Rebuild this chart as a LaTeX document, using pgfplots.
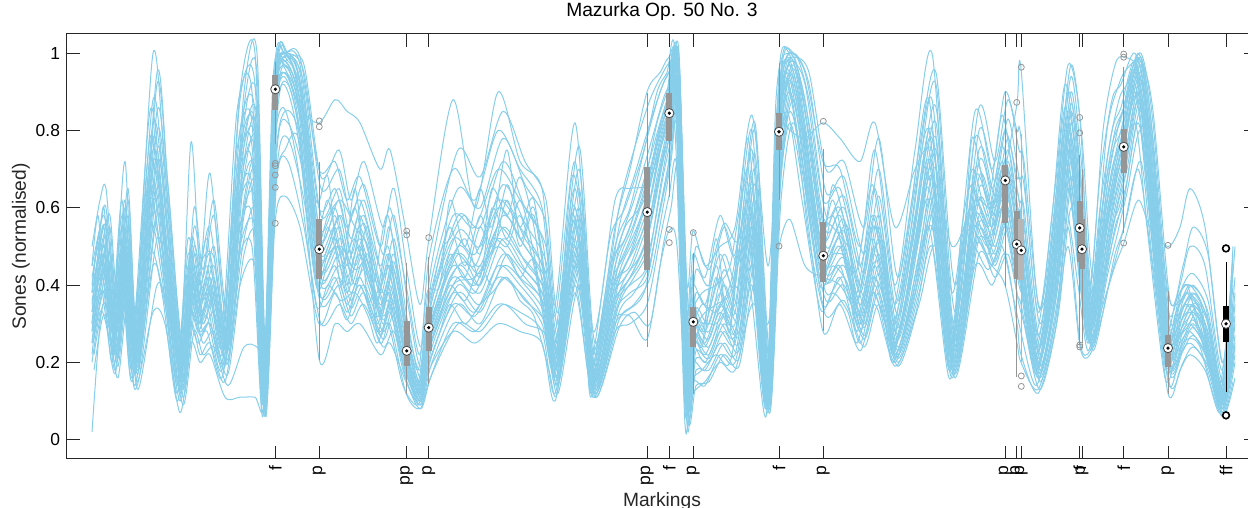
\documentclass[border=0pt]{standalone}
\usepackage{fontspec}
\setmainfont{Liberation Sans}
\usepackage{pgfplots}
\usepackage{pgfplotstable}
\pgfplotsset{compat=1.18}
\definecolor{curve}{RGB}{135,206,235}
\definecolor{boxgray}{RGB}{150,150,150}
\definecolor{axisgray}{RGB}{38,38,38}

% loudness curves, one column per performance (x = position along the piece)
\pgfplotstableread{
x c1 c2 c3 c4 c5 c6 c7 c8 c9 c10 c11 c12
92 0.30 0.35 0.25 0.42 0.02 0.38 0.28 0.45 0.33 0.50 0.20 0.36
100 0.45 0.50 0.38 0.52 0.30 0.48 0.40 0.55 0.42 0.62 0.33 0.46
106 0.40 0.55 0.45 0.48 0.35 0.42 0.50 0.60 0.38 0.65 0.30 0.52
115 0.25 0.30 0.22 0.28 0.18 0.26 0.32 0.35 0.20 0.40 0.17 0.27
125 0.45 0.55 0.42 0.60 0.38 0.50 0.47 0.62 0.44 0.72 0.35 0.52
135 0.20 0.22 0.18 0.25 0.14 0.21 0.24 0.28 0.17 0.30 0.13 0.23
153 0.70 0.78 0.62 0.82 0.45 0.72 0.66 0.88 0.55 1.00 0.33 0.75
165 0.50 0.55 0.42 0.60 0.35 0.52 0.45 0.62 0.40 0.70 0.30 0.50
180 0.16 0.18 0.12 0.20 0.10 0.15 0.17 0.22 0.13 0.25 0.07 0.19
191 0.42 0.45 0.35 0.50 0.30 0.40 0.38 0.52 0.33 0.77 0.25 0.47
200 0.30 0.35 0.28 0.40 0.22 0.32 0.30 0.45 0.27 0.45 0.20 0.36
210 0.38 0.42 0.30 0.48 0.25 0.36 0.40 0.55 0.30 0.69 0.22 0.45
225 0.22 0.25 0.19 0.28 0.15 0.24 0.26 0.32 0.20 0.35 0.11 0.27
240 0.65 0.75 0.55 0.80 0.40 0.70 0.62 0.88 0.50 0.90 0.11 0.72
255 0.75 0.80 0.62 0.85 0.45 0.78 0.70 0.92 0.55 1.00 0.11 0.82
265 0.10 0.12 0.08 0.15 0.06 0.11 0.13 0.20 0.07 0.25 0.10 0.14
275 0.90 0.93 0.85 0.95 0.56 0.91 0.88 0.97 0.71 0.94 0.65 0.89
285 1.00 0.98 0.95 1.00 0.63 0.97 0.99 1.00 0.85 0.96 0.75 1.00
300 0.90 0.95 0.85 0.97 0.55 0.88 0.92 0.99 0.78 0.86 0.76 0.93
319 0.50 0.55 0.42 0.60 0.30 0.47 0.45 0.70 0.38 0.82 0.21 0.52
335 0.55 0.60 0.45 0.65 0.38 0.52 0.50 0.72 0.42 0.88 0.30 0.58
347 0.40 0.48 0.35 0.55 0.31 0.42 0.38 0.62 0.33 0.85 0.28 0.45
360 0.52 0.58 0.42 0.62 0.40 0.50 0.48 0.68 0.40 0.82 0.30 0.55
380 0.35 0.40 0.28 0.45 0.25 0.33 0.32 0.50 0.27 0.70 0.22 0.38
390 0.42 0.48 0.35 0.55 0.30 0.40 0.38 0.60 0.33 0.75 0.25 0.45
406 0.23 0.28 0.19 0.31 0.12 0.22 0.21 0.40 0.17 0.54 0.15 0.26
420 0.12 0.15 0.10 0.18 0.08 0.13 0.12 0.22 0.10 0.35 0.09 0.14
429 0.29 0.33 0.23 0.36 0.15 0.27 0.25 0.47 0.20 0.52 0.18 0.31
453 0.45 0.52 0.38 0.58 0.30 0.42 0.40 0.70 0.35 0.88 0.28 0.48
475 0.40 0.48 0.33 0.55 0.28 0.38 0.42 0.62 0.32 0.60 0.25 0.45
498 0.55 0.62 0.45 0.70 0.35 0.52 0.50 0.80 0.42 0.90 0.30 0.60
520 0.48 0.55 0.40 0.62 0.33 0.45 0.42 0.70 0.38 0.72 0.28 0.52
542 0.40 0.45 0.32 0.52 0.28 0.38 0.36 0.60 0.30 0.65 0.25 0.42
555 0.22 0.25 0.18 0.28 0.12 0.21 0.20 0.32 0.17 0.35 0.10 0.24
575 0.55 0.60 0.48 0.65 0.40 0.52 0.50 0.72 0.45 0.82 0.38 0.57
593 0.15 0.18 0.13 0.20 0.11 0.14 0.16 0.23 0.12 0.28 0.11 0.17
615 0.40 0.45 0.35 0.50 0.30 0.38 0.36 0.55 0.33 0.62 0.28 0.42
630 0.45 0.55 0.40 0.60 0.32 0.48 0.42 0.70 0.38 0.65 0.30 0.52
647 0.58 0.70 0.45 0.78 0.26 0.62 0.52 0.90 0.42 0.66 0.35 0.66
660 0.75 0.82 0.65 0.90 0.45 0.78 0.70 0.95 0.60 0.75 0.52 0.80
669 0.85 0.90 0.78 0.95 0.54 0.86 0.80 0.99 0.70 0.82 0.63 0.88
677 0.95 1.00 0.88 0.98 0.50 0.96 0.92 0.97 0.80 0.85 0.70 0.99
687 0.15 0.20 0.10 0.25 0.05 0.15 0.12 0.30 0.08 0.40 0.04 0.18
693 0.30 0.34 0.24 0.40 0.12 0.28 0.26 0.48 0.20 0.54 0.15 0.32
705 0.25 0.30 0.20 0.35 0.15 0.24 0.22 0.42 0.18 0.45 0.14 0.28
720 0.35 0.42 0.28 0.48 0.20 0.33 0.30 0.58 0.25 0.50 0.22 0.38
735 0.30 0.35 0.25 0.40 0.18 0.28 0.27 0.48 0.22 0.55 0.20 0.33
752 0.60 0.68 0.50 0.75 0.35 0.58 0.55 0.80 0.45 0.84 0.40 0.65
768 0.10 0.12 0.08 0.15 0.30 0.10 0.09 0.18 0.07 0.45 0.08 0.12
779 0.80 0.85 0.75 0.90 0.50 0.78 0.76 0.95 0.65 0.82 0.62 0.82
790 0.97 1.00 0.90 0.98 0.57 0.95 0.93 1.00 0.85 0.80 0.82 0.99
805 0.80 0.88 0.72 0.92 0.45 0.78 0.75 0.95 0.68 0.78 0.62 0.85
823 0.48 0.56 0.41 0.62 0.42 0.45 0.44 0.72 0.35 0.82 0.28 0.52
840 0.55 0.60 0.45 0.65 0.40 0.50 0.52 0.70 0.42 0.78 0.35 0.58
860 0.35 0.40 0.28 0.45 0.32 0.33 0.30 0.50 0.25 0.72 0.23 0.38
875 0.50 0.58 0.42 0.65 0.38 0.48 0.45 0.75 0.40 0.82 0.35 0.55
895 0.25 0.30 0.22 0.35 0.20 0.24 0.26 0.40 0.21 0.55 0.19 0.28
915 0.50 0.58 0.42 0.65 0.40 0.52 0.48 0.75 0.38 0.70 0.32 0.55
932 0.70 0.80 0.62 0.88 0.55 0.72 0.68 1.00 0.58 0.75 0.50 0.78
952 0.22 0.25 0.18 0.30 0.17 0.21 0.24 0.38 0.20 0.50 0.16 0.26
975 0.62 0.70 0.55 0.78 0.50 0.60 0.58 0.85 0.52 0.62 0.45 0.68
992 0.55 0.60 0.48 0.65 0.45 0.53 0.50 0.70 0.45 0.60 0.40 0.58
1005 0.68 0.72 0.56 0.80 0.40 0.66 0.62 0.90 0.55 0.70 0.48 0.70
1017 0.50 0.60 0.42 0.68 0.25 0.48 0.45 0.80 0.38 0.87 0.30 0.56
1021 0.48 0.57 0.41 0.65 0.20 0.46 0.43 0.78 0.35 0.96 0.22 0.55
1038 0.20 0.23 0.17 0.27 0.13 0.19 0.21 0.33 0.16 0.35 0.12 0.24
1055 0.45 0.52 0.38 0.58 0.30 0.43 0.40 0.65 0.35 0.50 0.28 0.48
1068 0.80 0.85 0.70 0.90 0.55 0.78 0.75 0.97 0.65 0.65 0.50 0.82
1080 0.55 0.62 0.47 0.70 0.25 0.52 0.50 0.83 0.40 0.45 0.24 0.58
1090 0.28 0.32 0.25 0.35 0.23 0.27 0.29 0.40 0.25 0.35 0.22 0.30
1103 0.45 0.55 0.40 0.62 0.35 0.48 0.45 0.80 0.38 0.50 0.33 0.52
1115 0.65 0.72 0.58 0.80 0.45 0.66 0.62 0.97 0.55 0.68 0.48 0.70
1124 0.76 0.80 0.69 0.86 0.51 0.75 0.72 0.99 0.62 0.78 0.55 0.80
1138 0.95 0.99 0.88 1.00 0.62 0.93 0.90 0.96 0.82 0.90 0.70 0.98
1150 0.75 0.82 0.65 0.85 0.55 0.72 0.70 0.80 0.60 0.72 0.50 0.78
1168 0.24 0.27 0.19 0.30 0.50 0.22 0.20 0.38 0.15 0.33 0.12 0.26
1180 0.30 0.35 0.25 0.38 0.55 0.28 0.27 0.36 0.22 0.40 0.18 0.32
1190 0.35 0.38 0.28 0.40 0.65 0.33 0.30 0.40 0.25 0.50 0.22 0.37
1205 0.28 0.30 0.22 0.33 0.55 0.25 0.24 0.35 0.20 0.45 0.18 0.30
1222 0.10 0.12 0.08 0.14 0.20 0.09 0.10 0.15 0.07 0.18 0.06 0.11
1233 0.30 0.35 0.25 0.45 0.40 0.28 0.22 0.50 0.20 0.48 0.15 0.33
}\curvesA

% a second group of performances, a little later in phase
\pgfplotstableread{
x c1 c2 c3 c4 c5 c6 c7 c8 c9 c10 c11 c12
94 0.33 0.27 0.40 0.22 0.37 0.30 0.45 0.18 0.35 0.26 0.42 0.31
103 0.50 0.40 0.55 0.35 0.45 0.43 0.58 0.32 0.47 0.38 0.52 0.44
110 0.38 0.48 0.42 0.32 0.55 0.36 0.50 0.28 0.45 0.34 0.58 0.40
118 0.22 0.28 0.25 0.19 0.30 0.24 0.33 0.16 0.26 0.21 0.36 0.23
128 0.50 0.58 0.47 0.40 0.62 0.45 0.55 0.36 0.52 0.43 0.65 0.48
138 0.19 0.23 0.21 0.15 0.26 0.18 0.22 0.13 0.20 0.17 0.27 0.19
157 0.75 0.85 0.68 0.52 0.92 0.60 0.80 0.40 0.72 0.58 0.95 0.65
168 0.55 0.62 0.48 0.38 0.65 0.45 0.58 0.33 0.52 0.42 0.66 0.47
183 0.18 0.20 0.15 0.11 0.22 0.14 0.19 0.09 0.16 0.13 0.24 0.15
194 0.45 0.50 0.40 0.32 0.55 0.38 0.48 0.28 0.43 0.36 0.60 0.42
203 0.33 0.38 0.30 0.25 0.42 0.28 0.36 0.22 0.32 0.47 0.44 0.30
214 0.42 0.50 0.36 0.28 0.58 0.33 0.45 0.24 0.40 0.47 0.62 0.38
228 0.24 0.27 0.21 0.17 0.30 0.20 0.25 0.14 0.23 0.24 0.33 0.20
244 0.72 0.82 0.62 0.48 0.86 0.58 0.76 0.24 0.68 0.52 0.90 0.60
257 0.80 0.88 0.70 0.52 0.95 0.65 0.83 0.24 0.76 0.58 1.00 0.68
266 0.12 0.15 0.09 0.06 0.18 0.08 0.13 0.20 0.11 0.07 0.22 0.10
277 0.92 0.95 0.87 0.70 0.97 0.83 0.93 0.68 0.90 0.75 0.98 0.86
288 0.99 1.00 0.96 0.78 1.00 0.92 0.98 0.72 0.97 0.82 0.99 0.94
304 0.85 0.92 0.80 0.62 0.95 0.74 0.88 0.55 0.83 0.68 0.97 0.78
321 0.48 0.58 0.44 0.35 0.65 0.40 0.52 0.30 0.47 0.37 0.68 0.42
339 0.58 0.65 0.50 0.40 0.70 0.45 0.62 0.35 0.55 0.42 0.75 0.48
351 0.45 0.52 0.40 0.32 0.58 0.36 0.48 0.30 0.43 0.34 0.62 0.38
364 0.56 0.62 0.48 0.38 0.66 0.44 0.58 0.35 0.52 0.40 0.72 0.46
383 0.36 0.42 0.32 0.26 0.48 0.30 0.38 0.24 0.35 0.28 0.55 0.31
394 0.46 0.52 0.40 0.32 0.58 0.36 0.48 0.28 0.44 0.34 0.65 0.38
408 0.25 0.30 0.22 0.16 0.35 0.19 0.27 0.14 0.24 0.18 0.42 0.20
421 0.13 0.16 0.11 0.09 0.19 0.10 0.14 0.08 0.12 0.10 0.24 0.11
432 0.31 0.36 0.28 0.20 0.42 0.24 0.33 0.17 0.30 0.22 0.46 0.26
458 0.50 0.58 0.45 0.35 0.65 0.40 0.54 0.30 0.48 0.38 0.75 0.42
480 0.45 0.55 0.40 0.30 0.60 0.35 0.50 0.28 0.43 0.33 0.68 0.38
503 0.62 0.72 0.55 0.42 0.78 0.48 0.66 0.35 0.58 0.45 0.85 0.52
525 0.52 0.60 0.46 0.36 0.66 0.42 0.56 0.30 0.50 0.40 0.72 0.44
546 0.43 0.50 0.38 0.30 0.56 0.34 0.46 0.27 0.41 0.32 0.62 0.36
558 0.23 0.27 0.20 0.14 0.30 0.18 0.25 0.12 0.22 0.16 0.33 0.19
579 0.58 0.65 0.52 0.44 0.70 0.48 0.60 0.40 0.55 0.46 0.76 0.50
595 0.16 0.19 0.14 0.11 0.22 0.13 0.17 0.11 0.15 0.12 0.25 0.14
619 0.43 0.50 0.38 0.31 0.55 0.35 0.46 0.29 0.41 0.33 0.60 0.36
634 0.52 0.62 0.46 0.35 0.68 0.42 0.56 0.33 0.50 0.38 0.75 0.44
650 0.66 0.76 0.58 0.42 0.82 0.50 0.70 0.30 0.62 0.46 0.88 0.55
663 0.80 0.88 0.74 0.60 0.92 0.68 0.84 0.50 0.78 0.64 0.95 0.72
671 0.87 0.93 0.82 0.72 0.96 0.78 0.89 0.60 0.85 0.75 0.98 0.80
679 0.97 1.00 0.94 0.85 0.98 0.90 0.99 0.70 0.96 0.88 0.97 0.92
688 0.18 0.24 0.14 0.08 0.30 0.11 0.20 0.06 0.16 0.10 0.35 0.13
696 0.31 0.38 0.27 0.18 0.44 0.23 0.34 0.14 0.29 0.21 0.50 0.25
709 0.28 0.34 0.24 0.18 0.40 0.21 0.30 0.15 0.26 0.20 0.44 0.22
724 0.40 0.48 0.34 0.25 0.55 0.30 0.44 0.22 0.37 0.28 0.56 0.32
739 0.33 0.40 0.28 0.21 0.46 0.25 0.36 0.19 0.31 0.23 0.52 0.27
755 0.66 0.74 0.58 0.45 0.80 0.52 0.70 0.40 0.62 0.48 0.82 0.55
770 0.12 0.15 0.10 0.08 0.18 0.09 0.13 0.07 0.11 0.08 0.22 0.10
781 0.84 0.90 0.78 0.68 0.94 0.72 0.86 0.62 0.80 0.70 0.96 0.75
794 0.99 1.00 0.96 0.88 1.00 0.92 0.98 0.82 0.97 0.90 0.99 0.94
809 0.78 0.88 0.72 0.58 0.92 0.65 0.82 0.52 0.75 0.62 0.95 0.68
826 0.50 0.58 0.45 0.36 0.64 0.41 0.54 0.32 0.48 0.38 0.70 0.43
844 0.57 0.63 0.50 0.40 0.68 0.45 0.60 0.36 0.54 0.42 0.72 0.47
864 0.37 0.43 0.32 0.26 0.48 0.29 0.40 0.24 0.35 0.27 0.55 0.30
879 0.55 0.63 0.48 0.38 0.70 0.43 0.58 0.35 0.52 0.40 0.78 0.45
898 0.27 0.32 0.24 0.20 0.36 0.22 0.29 0.19 0.26 0.21 0.42 0.23
919 0.55 0.63 0.48 0.38 0.70 0.42 0.58 0.35 0.52 0.40 0.75 0.45
936 0.78 0.86 0.70 0.56 0.92 0.63 0.82 0.50 0.75 0.60 0.95 0.66
955 0.24 0.28 0.21 0.17 0.33 0.19 0.26 0.16 0.23 0.18 0.40 0.20
979 0.68 0.75 0.62 0.52 0.80 0.56 0.72 0.48 0.65 0.54 0.86 0.58
995 0.58 0.63 0.53 0.45 0.67 0.48 0.60 0.42 0.56 0.46 0.72 0.50
1008 0.72 0.78 0.66 0.55 0.83 0.60 0.75 0.48 0.70 0.58 0.88 0.62
1019 0.55 0.62 0.50 0.40 0.68 0.44 0.58 0.35 0.52 0.42 0.75 0.46
1024 0.52 0.60 0.47 0.36 0.66 0.41 0.55 0.30 0.50 0.38 0.72 0.43
1040 0.22 0.26 0.19 0.15 0.30 0.17 0.24 0.13 0.21 0.16 0.34 0.18
1058 0.50 0.56 0.44 0.35 0.62 0.40 0.53 0.32 0.47 0.37 0.68 0.42
1071 0.85 0.90 0.78 0.65 0.94 0.72 0.87 0.60 0.82 0.68 0.97 0.75
1082 0.58 0.65 0.52 0.42 0.70 0.47 0.62 0.38 0.55 0.45 0.78 0.49
1093 0.30 0.34 0.27 0.24 0.37 0.25 0.32 0.23 0.29 0.24 0.42 0.26
1107 0.58 0.65 0.52 0.42 0.72 0.47 0.62 0.38 0.55 0.45 0.80 0.49
1119 0.75 0.82 0.68 0.55 0.88 0.62 0.78 0.50 0.72 0.58 0.92 0.65
1127 0.82 0.88 0.76 0.64 0.92 0.70 0.85 0.58 0.80 0.67 0.96 0.73
1141 0.97 0.99 0.93 0.80 1.00 0.88 0.98 0.72 0.95 0.85 0.98 0.90
1153 0.70 0.78 0.62 0.50 0.82 0.56 0.74 0.45 0.66 0.53 0.85 0.60
1170 0.25 0.28 0.22 0.17 0.31 0.19 0.26 0.14 0.23 0.18 0.36 0.20
1183 0.32 0.36 0.28 0.23 0.40 0.25 0.34 0.20 0.30 0.24 0.45 0.26
1193 0.37 0.40 0.33 0.27 0.43 0.30 0.38 0.24 0.35 0.29 0.55 0.31
1208 0.30 0.33 0.26 0.21 0.36 0.23 0.31 0.19 0.28 0.22 0.48 0.24
1223 0.11 0.13 0.09 0.07 0.15 0.08 0.12 0.06 0.10 0.08 0.20 0.09
1235 0.32 0.38 0.27 0.20 0.42 0.24 0.35 0.16 0.30 0.22 0.50 0.25
}\curvesB

% a third group, earlier in phase and with more small bumps
\pgfplotstableread{
x c1 c2 c3 c4 c5 c6 c7 c8
92 0.38 0.25 0.45 0.30 0.22 0.40 0.33 0.28
98 0.52 0.40 0.58 0.45 0.35 0.50 0.48 0.42
104 0.45 0.50 0.40 0.55 0.38 0.35 0.60 0.46
112 0.28 0.24 0.30 0.22 0.20 0.26 0.33 0.25
122 0.55 0.48 0.62 0.42 0.40 0.58 0.50 0.45
132 0.22 0.18 0.25 0.16 0.15 0.20 0.27 0.19
150 0.78 0.62 0.85 0.55 0.48 0.72 0.68 0.60
162 0.58 0.45 0.62 0.42 0.38 0.55 0.50 0.46
177 0.18 0.14 0.20 0.12 0.10 0.16 0.22 0.15
188 0.48 0.38 0.52 0.35 0.30 0.45 0.42 0.40
198 0.36 0.30 0.40 0.28 0.25 0.33 0.38 0.32
207 0.45 0.35 0.52 0.32 0.28 0.42 0.40 0.38
222 0.26 0.20 0.30 0.18 0.16 0.24 0.28 0.22
237 0.75 0.60 0.85 0.52 0.45 0.70 0.65 0.58
252 0.82 0.66 0.90 0.58 0.50 0.76 0.72 0.64
263 0.13 0.09 0.16 0.07 0.06 0.11 0.14 0.10
273 0.88 0.82 0.93 0.78 0.72 0.86 0.84 0.80
283 1.00 0.95 0.99 0.92 0.86 0.98 0.97 0.94
297 0.92 0.85 0.96 0.80 0.72 0.90 0.88 0.83
316 0.55 0.45 0.62 0.40 0.35 0.52 0.48 0.42
328 0.62 0.50 0.68 0.46 0.40 0.58 0.55 0.48
341 0.48 0.58 0.40 0.52 0.36 0.62 0.45 0.50
355 0.60 0.45 0.65 0.40 0.38 0.55 0.52 0.44
368 0.42 0.55 0.36 0.48 0.32 0.50 0.40 0.46
377 0.38 0.32 0.45 0.28 0.25 0.36 0.35 0.30
388 0.50 0.40 0.58 0.36 0.30 0.48 0.45 0.38
403 0.27 0.21 0.33 0.18 0.14 0.25 0.24 0.20
418 0.15 0.11 0.18 0.10 0.09 0.13 0.14 0.12
427 0.33 0.26 0.38 0.22 0.18 0.30 0.28 0.24
440 0.45 0.38 0.40 0.32 0.28 0.48 0.36 0.34
450 0.55 0.45 0.62 0.40 0.35 0.52 0.48 0.42
465 0.45 0.52 0.50 0.36 0.30 0.58 0.42 0.46
480 0.58 0.42 0.65 0.45 0.35 0.48 0.55 0.40
492 0.50 0.60 0.55 0.40 0.38 0.65 0.48 0.52
507 0.66 0.52 0.75 0.48 0.42 0.58 0.62 0.50
520 0.55 0.62 0.52 0.42 0.36 0.68 0.50 0.58
534 0.62 0.48 0.60 0.46 0.32 0.55 0.58 0.45
549 0.30 0.25 0.35 0.22 0.18 0.28 0.33 0.24
557 0.20 0.17 0.24 0.15 0.12 0.19 0.22 0.16
572 0.60 0.50 0.68 0.46 0.42 0.56 0.58 0.48
585 0.45 0.38 0.50 0.35 0.30 0.42 0.40 0.36
591 0.17 0.14 0.20 0.12 0.11 0.15 0.18 0.13
610 0.45 0.38 0.52 0.34 0.30 0.42 0.40 0.36
625 0.52 0.45 0.60 0.40 0.33 0.55 0.48 0.42
644 0.66 0.55 0.75 0.48 0.38 0.62 0.60 0.50
657 0.82 0.72 0.90 0.65 0.55 0.78 0.76 0.68
667 0.90 0.83 0.95 0.78 0.68 0.88 0.86 0.80
675 0.98 0.94 1.00 0.90 0.80 0.97 0.95 0.92
685 0.20 0.12 0.25 0.08 0.04 0.16 0.14 0.10
691 0.35 0.27 0.42 0.22 0.15 0.32 0.30 0.25
702 0.28 0.35 0.25 0.30 0.18 0.38 0.24 0.32
716 0.45 0.33 0.52 0.30 0.22 0.40 0.42 0.35
730 0.32 0.40 0.28 0.36 0.20 0.45 0.30 0.38
748 0.70 0.58 0.78 0.52 0.42 0.66 0.62 0.55
766 0.11 0.09 0.14 0.08 0.06 0.10 0.12 0.09
776 0.82 0.76 0.88 0.72 0.65 0.80 0.78 0.74
787 0.99 0.95 1.00 0.92 0.85 0.98 0.96 0.93
802 0.85 0.76 0.90 0.70 0.62 0.82 0.80 0.72
820 0.52 0.44 0.60 0.40 0.34 0.50 0.48 0.42
833 0.62 0.50 0.55 0.45 0.38 0.66 0.58 0.48
848 0.45 0.55 0.50 0.40 0.33 0.52 0.42 0.46
857 0.38 0.32 0.44 0.28 0.25 0.36 0.35 0.30
872 0.58 0.48 0.66 0.42 0.38 0.55 0.52 0.45
885 0.42 0.50 0.45 0.36 0.30 0.48 0.40 0.44
893 0.28 0.24 0.33 0.22 0.20 0.26 0.30 0.23
912 0.56 0.45 0.62 0.42 0.36 0.52 0.50 0.44
929 0.80 0.68 0.88 0.62 0.55 0.75 0.72 0.65
949 0.25 0.20 0.30 0.18 0.16 0.23 0.22 0.19
962 0.45 0.52 0.40 0.48 0.35 0.55 0.42 0.50
972 0.70 0.60 0.78 0.55 0.50 0.66 0.64 0.58
988 0.58 0.52 0.62 0.48 0.44 0.56 0.55 0.50
1002 0.76 0.66 0.84 0.60 0.50 0.72 0.70 0.62
1014 0.60 0.50 0.66 0.45 0.36 0.56 0.54 0.48
1019 0.56 0.46 0.62 0.42 0.30 0.52 0.50 0.44
1036 0.24 0.19 0.28 0.17 0.14 0.22 0.21 0.18
1052 0.52 0.42 0.58 0.38 0.32 0.48 0.46 0.40
1065 0.86 0.76 0.92 0.70 0.60 0.82 0.80 0.72
1078 0.60 0.50 0.68 0.46 0.40 0.56 0.55 0.48
1088 0.31 0.27 0.35 0.25 0.23 0.29 0.30 0.26
1100 0.60 0.50 0.68 0.45 0.38 0.55 0.52 0.48
1112 0.80 0.70 0.88 0.64 0.55 0.76 0.74 0.66
1121 0.86 0.78 0.92 0.72 0.62 0.83 0.80 0.74
1135 0.98 0.95 1.00 0.90 0.82 0.97 0.96 0.92
1147 0.78 0.70 0.84 0.64 0.55 0.75 0.72 0.66
1165 0.27 0.22 0.30 0.19 0.16 0.25 0.24 0.20
1176 0.33 0.28 0.36 0.25 0.22 0.31 0.30 0.26
1187 0.38 0.33 0.40 0.29 0.26 0.36 0.35 0.31
1200 0.30 0.34 0.28 0.32 0.24 0.36 0.27 0.33
1219 0.11 0.09 0.13 0.08 0.07 0.10 0.12 0.09
1232 0.36 0.28 0.42 0.24 0.18 0.33 0.30 0.26
}\curvesC

% compact box: [colour]{x}{low whisker}{q1}{median}{q3}{high whisker}
\newcommand{\markbox}[7][boxgray]{%
  \addplot[#1, line width=0.5pt, forget plot] coordinates {(#2,#3) (#2,#7)};
  \addplot[#1, line width=3pt, forget plot] coordinates {(#2,#4) (#2,#6)};
  \addplot[only marks, mark=*, mark size=2.3pt, forget plot,
    mark options={fill=white, draw=black!70, line width=0.4pt}] coordinates {(#2,#5)};
  \addplot[only marks, mark=*, mark size=0.6pt, black, forget plot] coordinates {(#2,#5)};
}

\begin{document}
\begin{tikzpicture}
\useasboundingbox (-33.5pt,-24.5pt) rectangle (590.5pt,229.5pt);
\begin{axis}[
  at={(0pt,0pt)}, anchor=south west,
  width=595pt, height=212.5pt, scale only axis,
  xmin=67, xmax=1257, ymin=-0.05, ymax=1.05,
  xtick={275.3,319.3,406.7,428.7,647.3,669.3,693.3,779,823.3,1005.3,1016.7,1021.3,1079.7,1082,1123.7,1168,1226},
  xticklabels={f,p,pp,p,pp,f,p,f,p,p,p,p,f,p,f,p,ff},
  xticklabel style={rotate=90, anchor=east, font=\fontsize{8.7}{9}\selectfont},
  ytick={0,0.2,0.4,0.6,0.8,1},
  yticklabels={0,0.2,0.4,0.6,0.8,1},
  yticklabel style={font=\fontsize{8.7}{9}\selectfont},
  tick align=inside, major tick length=6.3pt,
  axis line style={axisgray, line width=0.5pt},
  tick style={axisgray, line width=0.5pt},
  title={Mazurka Op. 50 No. 3},
  title style={at={(axis description cs:0.5,1.0141)}, anchor=base, font=\fontsize{9.6}{10}\selectfont},
  xlabel={Markings},
  xlabel style={at={(axis description cs:0.5,-0.1115)}, anchor=base, font=\fontsize{9.6}{10}\selectfont, text=axisgray},
  ylabel={Sones (normalised)},
  ylabel style={at={(axis description cs:-0.0345,0.5)}, anchor=base, font=\fontsize{9.6}{10}\selectfont, text=axisgray},
]
\pgfplotsinvokeforeach{1,...,12}{
  \addplot[curve, line width=0.5pt, smooth, tension=0.5] table[x=x, y=c#1] {\curvesA};
  \addplot[curve, line width=0.5pt, smooth, tension=0.5] table[x=x, y=c#1] {\curvesB};
}
\pgfplotsinvokeforeach{1,...,8}{
  \addplot[curve, line width=0.5pt, smooth, tension=0.5] table[x=x, y=c#1] {\curvesC};
}
\markbox{275.3}{0.764}{0.853}{0.907}{0.943}{0.977}
\markbox{319.3}{0.205}{0.416}{0.493}{0.570}{0.718}
\markbox{406.7}{0.119}{0.191}{0.230}{0.308}{0.456}
\markbox{428.7}{0.145}{0.230}{0.290}{0.343}{0.473}
\markbox{647.3}{0.240}{0.440}{0.589}{0.706}{0.898}
\markbox{669.3}{0.628}{0.772}{0.845}{0.897}{0.996}
\markbox{693.3}{0.119}{0.240}{0.305}{0.344}{0.482}
\markbox{779}{0.620}{0.749}{0.797}{0.845}{0.974}
\markbox{823.3}{0.281}{0.407}{0.476}{0.563}{0.753}
\markbox{1005.3}{0.394}{0.560}{0.671}{0.711}{0.902}
\markbox{1016.7}{0.161}{0.415}{0.506}{0.591}{0.804}
\markbox[boxgray!70]{1021.3}{0.200}{0.413}{0.490}{0.571}{0.791}
\markbox{1079.7}{0.244}{0.460}{0.548}{0.617}{0.737}
\markbox{1082}{0.250}{0.441}{0.493}{0.571}{0.700}
\markbox{1123.7}{0.536}{0.689}{0.758}{0.803}{0.964}
\markbox{1168}{0.117}{0.187}{0.237}{0.270}{0.385}
\markbox[black]{1226}{0.123}{0.253}{0.300}{0.346}{0.460}
\addplot[only marks, mark=o, mark size=1.5pt, boxgray, mark options={line width=0.4pt}] coordinates {
  (275.3,0.715) (275.3,0.709) (275.3,0.685) (275.3,0.653) (275.3,0.560)
  (319.3,0.825) (319.3,0.810) (406.7,0.540) (406.7,0.530) (428.7,0.523)
  (669.3,0.544) (669.3,0.510) (693.3,0.536) (779,0.501) (823.3,0.824)
  (1016.7,0.873) (1021.3,0.964) (1021.3,0.165) (1021.3,0.138)
  (1079.7,0.834) (1079.7,0.794) (1079.7,0.245) (1079.7,0.240)
  (1123.7,0.998) (1123.7,0.990) (1123.7,0.509) (1168,0.503)};
\addplot[only marks, mark=*, mark size=1.7pt, mark options={fill=white, draw=black, line width=0.8pt}] coordinates {
  (1226,0.495) (1226,0.063)};
\end{axis}
\end{tikzpicture}
\end{document}
